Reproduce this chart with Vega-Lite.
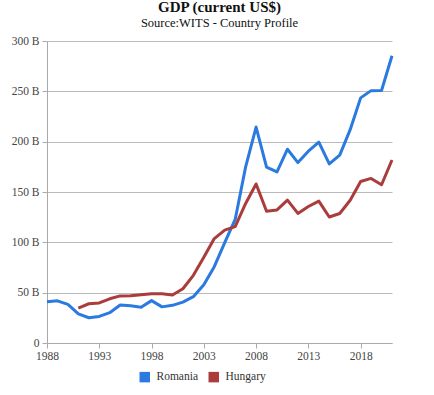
{
  "$schema": "https://vega.github.io/schema/vega-lite/v6.json",
  "width": 345,
  "height": 302,
  "autosize": "none",
  "padding": {"left": 47, "top": 41, "right": 42, "bottom": 52},
  "background": "white",
  "title": {
    "text": "GDP (current US$)",
    "subtitle": "Source:WITS - Country Profile",
    "font": "Liberation Serif, Times New Roman, serif",
    "fontSize": 15,
    "fontWeight": "bold",
    "color": "#111",
    "subtitleFont": "Liberation Serif, Times New Roman, serif",
    "subtitleFontSize": 12.5,
    "subtitleColor": "#111",
    "subtitlePadding": 2,
    "anchor": "middle",
    "offset": 6
  },
  "data": {
    "values": [
      {"year": 1988, "country": "Romania", "gdp": 41.0},
      {"year": 1989, "country": "Romania", "gdp": 41.9},
      {"year": 1990, "country": "Romania", "gdp": 38.3},
      {"year": 1991, "country": "Romania", "gdp": 28.9},
      {"year": 1992, "country": "Romania", "gdp": 25.1},
      {"year": 1993, "country": "Romania", "gdp": 26.4},
      {"year": 1994, "country": "Romania", "gdp": 30.1},
      {"year": 1995, "country": "Romania", "gdp": 37.7},
      {"year": 1996, "country": "Romania", "gdp": 36.9},
      {"year": 1997, "country": "Romania", "gdp": 35.6},
      {"year": 1998, "country": "Romania", "gdp": 42.1},
      {"year": 1999, "country": "Romania", "gdp": 35.9},
      {"year": 2000, "country": "Romania", "gdp": 37.4},
      {"year": 2001, "country": "Romania", "gdp": 40.6},
      {"year": 2002, "country": "Romania", "gdp": 46.0},
      {"year": 2003, "country": "Romania", "gdp": 57.8},
      {"year": 2004, "country": "Romania", "gdp": 75.8},
      {"year": 2005, "country": "Romania", "gdp": 99.7},
      {"year": 2006, "country": "Romania", "gdp": 122.7},
      {"year": 2007, "country": "Romania", "gdp": 175.0},
      {"year": 2008, "country": "Romania", "gdp": 214.5},
      {"year": 2009, "country": "Romania", "gdp": 174.6},
      {"year": 2010, "country": "Romania", "gdp": 170.0},
      {"year": 2011, "country": "Romania", "gdp": 192.5},
      {"year": 2012, "country": "Romania", "gdp": 179.2},
      {"year": 2013, "country": "Romania", "gdp": 190.5},
      {"year": 2014, "country": "Romania", "gdp": 199.5},
      {"year": 2015, "country": "Romania", "gdp": 177.9},
      {"year": 2016, "country": "Romania", "gdp": 186.7},
      {"year": 2017, "country": "Romania", "gdp": 211.9},
      {"year": 2018, "country": "Romania", "gdp": 243.5},
      {"year": 2019, "country": "Romania", "gdp": 250.7},
      {"year": 2020, "country": "Romania", "gdp": 250.8},
      {"year": 2021, "country": "Romania", "gdp": 285.4},
      {"year": 1991, "country": "Hungary", "gdp": 34.7},
      {"year": 1992, "country": "Hungary", "gdp": 39.0},
      {"year": 1993, "country": "Hungary", "gdp": 39.8},
      {"year": 1994, "country": "Hungary", "gdp": 43.9},
      {"year": 1995, "country": "Hungary", "gdp": 46.8},
      {"year": 1996, "country": "Hungary", "gdp": 46.9},
      {"year": 1997, "country": "Hungary", "gdp": 47.9},
      {"year": 1998, "country": "Hungary", "gdp": 48.9},
      {"year": 1999, "country": "Hungary", "gdp": 48.9},
      {"year": 2000, "country": "Hungary", "gdp": 47.6},
      {"year": 2001, "country": "Hungary", "gdp": 53.9},
      {"year": 2002, "country": "Hungary", "gdp": 67.2},
      {"year": 2003, "country": "Hungary", "gdp": 85.2},
      {"year": 2004, "country": "Hungary", "gdp": 103.7},
      {"year": 2005, "country": "Hungary", "gdp": 112.2},
      {"year": 2006, "country": "Hungary", "gdp": 115.6},
      {"year": 2007, "country": "Hungary", "gdp": 138.6},
      {"year": 2008, "country": "Hungary", "gdp": 158.0},
      {"year": 2009, "country": "Hungary", "gdp": 130.8},
      {"year": 2010, "country": "Hungary", "gdp": 132.2},
      {"year": 2011, "country": "Hungary", "gdp": 141.9},
      {"year": 2012, "country": "Hungary", "gdp": 128.7},
      {"year": 2013, "country": "Hungary", "gdp": 135.6},
      {"year": 2014, "country": "Hungary", "gdp": 141.0},
      {"year": 2015, "country": "Hungary", "gdp": 125.2},
      {"year": 2016, "country": "Hungary", "gdp": 128.6},
      {"year": 2017, "country": "Hungary", "gdp": 141.8},
      {"year": 2018, "country": "Hungary", "gdp": 160.4},
      {"year": 2019, "country": "Hungary", "gdp": 163.5},
      {"year": 2020, "country": "Hungary", "gdp": 157.2},
      {"year": 2021, "country": "Hungary", "gdp": 181.8}
    ]
  },
  "mark": {"type": "line", "strokeWidth": 3, "strokeJoin": "round"},
  "encoding": {
    "x": {
      "field": "year",
      "type": "quantitative",
      "scale": {"domain": [1988, 2021], "nice": false, "zero": false},
      "axis": {
        "title": null,
        "values": [1988, 1993, 1998, 2003, 2008, 2013, 2018],
        "format": "d",
        "grid": false,
        "domainColor": "#aaa",
        "tickColor": "#aaa",
        "tickSize": 5,
        "labelFont": "Liberation Serif, Times New Roman, serif",
        "labelFontSize": 11.5,
        "labelColor": "#444",
        "labelPadding": 2,
        "labelFlush": false
      }
    },
    "y": {
      "field": "gdp",
      "type": "quantitative",
      "scale": {"domain": [0, 300], "nice": false},
      "axis": {
        "title": null,
        "values": [0, 50, 100, 150, 200, 250, 300],
        "labelExpr": "datum.value == 0 ? '0' : datum.value + ' B'",
        "grid": true,
        "gridColor": "#bbb",
        "domainColor": "#aaa",
        "tickColor": "#aaa",
        "tickSize": 5,
        "labelFont": "Liberation Serif, Times New Roman, serif",
        "labelFontSize": 11.5,
        "labelColor": "#444",
        "labelPadding": 3
      }
    },
    "color": {
      "field": "country",
      "type": "nominal",
      "scale": {"domain": ["Romania", "Hungary"], "range": ["#2a7ae0", "#ab3c3c"]},
      "legend": {
        "title": null,
        "orient": "none",
        "direction": "horizontal",
        "legendX": 92,
        "legendY": 330,
        "symbolType": "square",
        "symbolSize": 110,
        "symbolStrokeWidth": 0,
        "symbolOpacity": 1,
        "labelFont": "Liberation Serif, Times New Roman, serif",
        "labelFontSize": 11.5,
        "labelColor": "#333",
        "columnPadding": 9,
        "labelOffset": 6,
        "encode": {
          "symbols": {
            "update": {
              "fill": {"scale": "color", "field": "value"},
              "fillOpacity": {"value": 1}
            }
          }
        }
      }
    }
  },
  "config": {
    "font": "Liberation Serif, Times New Roman, serif",
    "view": {"stroke": null}
  }
}
